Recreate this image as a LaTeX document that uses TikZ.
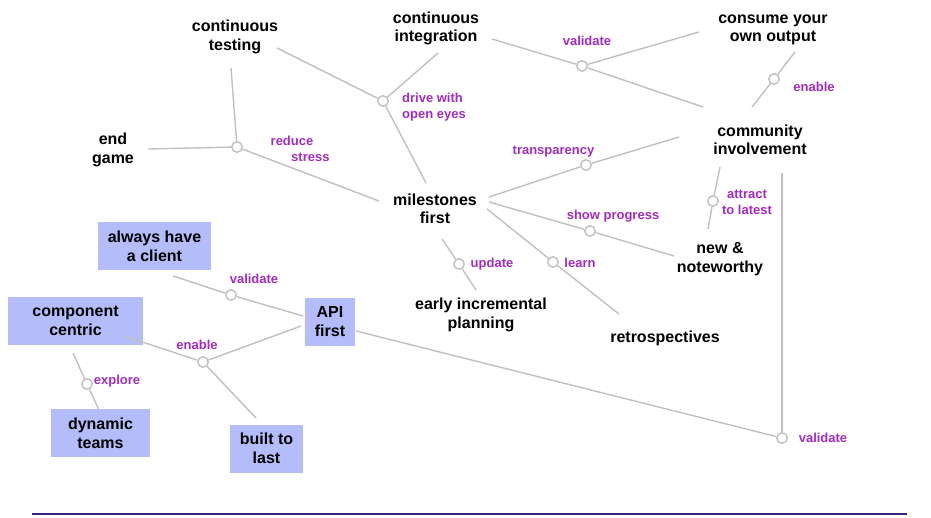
\documentclass[tikz,border=0pt]{standalone}
\usepackage{fontspec}
\setmainfont{Liberation Sans}
\usetikzlibrary{calc}

\definecolor{linkgray}{RGB}{192,192,192}
\definecolor{verbpurple}{RGB}{160,44,192}
\definecolor{boxblue}{RGB}{180,189,250}
\definecolor{rulenavy}{RGB}{50,36,120}

\begin{document}
\begin{tikzpicture}[x=1pt,y=-1pt,
  topic/.style={font=\fontsize{16}{18.4}\selectfont\bfseries, align=center, inner sep=3pt},
  boxed/.style={topic, font=\fontsize{16}{19}\selectfont\bfseries, fill=boxblue, minimum height=48pt, inner sep=0pt},
  hub/.style={circle, draw=linkgray, fill=white, line width=1.4pt, minimum size=10.5pt, inner sep=0pt},
  verb/.style={font=\fontsize{13}{16}\selectfont\bfseries, text=verbpurple, inner sep=0pt},
  link/.style={draw=linkgray, line width=1.4pt},
]
\useasboundingbox (0,0) rectangle (931,518);

% highlighted practices
\node[boxed, minimum width=113pt] (awc) at (154.5,246.5) {always have\\a client};
\node[boxed, minimum width=135pt] (cc)  at (75.5,321)  {component\\centric};
\node[boxed, minimum width=50pt]  (api) at (330,322)   {API\\first};
\node[boxed, minimum width=99pt]  (dt)  at (100.5,433) {dynamic\\teams};
\node[boxed, minimum width=73pt]  (btl) at (266.5,448.5) {built to\\last};

% other practices
\node[topic] (ct)  at (235,37)    {continuous\\testing};
\node[topic] (ci)  at (436,28.5)  {continuous\\integration};
\node[topic] (cyo) at (773,30)    {consume your\\own output};
\node[topic] (eg)  at (113,150)   {end\\game};
\node[topic] (mf)  at (435,208.5) {milestones\\first};
\node[topic] (civ) at (760,140)   {community\\involvement};
\node[topic] (nn)  at (720,259)   {new \&\\noteworthy};
\node[topic] (eip) at (481,315)   {early incremental\\planning};
\node[topic] (ret) at (665,338)   {retrospectives};

% junctions
\node[hub] (h1)  at (237,147) {};
\node[hub] (h2)  at (383,101) {};
\node[hub] (h3)  at (582,66)  {};
\node[hub] (h4)  at (774,79)  {};
\node[hub] (h5)  at (586,165) {};
\node[hub] (h6)  at (590,231) {};
\node[hub] (h7)  at (553,262) {};
\node[hub] (h8)  at (459,264) {};
\node[hub] (h9)  at (713,201) {};
\node[hub] (h10) at (782,438) {};
\node[hub] (h11) at (231,295) {};
\node[hub] (h12) at (203,362) {};
\node[hub] (h13) at (87,384)  {};

% connectors
\draw[link] ($(eg)+(35,-1)$)   -- (h1);
\draw[link] ($(ct)+(-4,31)$)   -- (h1);
\draw[link] (h1) -- ($(mf)+(-56,-7.5)$);
\draw[link] ($(ct)+(42,11)$)   -- (h2);
\draw[link] ($(ci)+(2,24.5)$)  -- (h2);
\draw[link] (h2) -- ($(mf)+(-9,-25.5)$);
\draw[link] ($(ci)+(56,10.5)$) -- (h3);
\draw[link] (h3) -- ($(cyo)+(-74,2)$);
\draw[link] (h3) -- ($(civ)+(-57,-33)$);
\draw[link] ($(cyo)+(22,22)$)  -- (h4);
\draw[link] (h4) -- ($(civ)+(-8,-33)$);
\draw[link] ($(mf)+(54,-11.5)$) -- (h5);
\draw[link] (h5) -- ($(civ)+(-81,-3)$);
\draw[link] ($(mf)+(54,-6.5)$) -- (h6);
\draw[link] (h6) -- ($(nn)+(-46,-3)$);
\draw[link] ($(mf)+(52,0.5)$)  -- (h7);
\draw[link] (h7) -- ($(ret)+(-46,-24)$);
\draw[link] ($(mf)+(7,30.5)$)  -- (h8);
\draw[link] (h8) -- ($(eip)+(-5,-25)$);
\draw[link] ($(civ)+(-40,27)$) -- (h9);
\draw[link] (h9) -- ($(nn)+(-12,-30)$);
\draw[link] ($(civ)+(22,33)$)  -- (h10);
\draw[link] ($(api)+(26,9)$)   -- (h10);
\draw[link] ($(awc)+(18.5,29.5)$) -- (h11);
\draw[link] (h11) -- ($(api)+(-27,-6)$);
\draw[link] ($(cc)+(48.5,15)$) -- (h12);
\draw[link] (h12) -- ($(api)+(-29,4)$);
\draw[link] (h12) -- ($(btl)+(-10.5,-30.5)$);
\draw[link] ($(cc)+(-2.5,32)$) -- (h13);
\draw[link] (h13) -- ($(dt)+(-1.5,-23)$);

% relation labels
\node[verb, align=left, anchor=west] (l1) at (270.5,149) {reduce\\\hspace*{20.5pt}stress};
\node[verb, align=left, anchor=west] (l2) at (402,107.5) {drive with\\open eyes};
\node[verb] (l3)  at (587,40.5)  {validate};
\node[verb] (l4)  at (814,86.5)  {enable};
\node[verb] (l5)  at (553.5,151.5) {transparency};
\node[verb] (l6)  at (613,216.5) {show progress};
\node[verb, align=center] (l7) at (747,202.5) {attract\\to latest};
\node[verb] (l8)  at (580,262.5) {learn};
\node[verb] (l9)  at (492,264)   {update};
\node[verb] (l10) at (823,437.5) {validate};
\node[verb] (l11) at (254,278.5) {validate};
\node[verb] (l12) at (197,344.5) {enable};
\node[verb] (l13) at (117,381.5) {explore};

% footer rule
\coordinate (ruleL) at (32,513.5);
\coordinate (ruleR) at (907,513.5);
\draw[rulenavy, line width=2pt] (ruleL) -- (ruleR);
\end{tikzpicture}
\end{document}
